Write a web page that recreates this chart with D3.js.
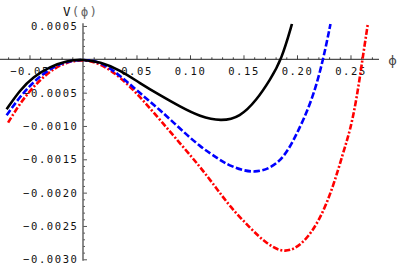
<!DOCTYPE html>
<html>
<head>
<meta charset="utf-8">
<script src="https://cdn.jsdelivr.net/npm/d3@7"></script>
<style>
    body { margin: 0; background: #fff; }
    .tick text { font-family: "DejaVu Sans Mono", monospace; font-size: 10.5px; letter-spacing: 1.6px; fill: #111; }
</style>
</head>
<body>
<div id="chart"></div>
<script>
// ticks
let xTicks = [-0.05, 0.05, 0.10, 0.15, 0.20, 0.25];
let xTickLabels = ["\u22120.05", "0.05", "0.10", "0.15", "0.20", "0.25"];
let yTicks = [0.0005, -0.0005, -0.0010, -0.0015, -0.0020, -0.0025, -0.0030];
let yTickLabels = ["0.0005", "\u22120.0005", "\u22120.0010", "\u22120.0015", "\u22120.0020", "\u22120.0025", "\u22120.0030"];

// V(phi), [phi, V]
let solidCurve = [
    [-0.0714, -0.00075], [-0.0589, -0.00046], [-0.0464, -0.00026], [-0.0308, -0.00011],
    [-0.0152, -0.00002], [0, 0], [0.0159, -0.00004], [0.0346, -0.00016], [0.0533, -0.00036],
    [0.072, -0.00054], [0.0907, -0.00071], [0.1093, -0.00086], [0.1290, -0.00093],
    [0.1467, -0.00087], [0.1623, -0.00061], [0.1748, -0.00031], [0.1857, 0], [0.1953, 0.00053]
];
let dashedCurve = [
    [-0.0714, -0.00084], [-0.0589, -0.00056], [-0.0464, -0.00034], [-0.0308, -0.000135],
    [-0.0152, -0.00003], [0, 0], [0.0159, -0.00003], [0.0346, -0.00024], [0.0533, -0.00051],
    [0.072, -0.00076], [0.0907, -0.00104], [0.1093, -0.00131], [0.128, -0.00151],
    [0.1374, -0.00160], [0.1607, -0.00173], [0.1841, -0.00157], [0.198, -0.00119],
    [0.2145, -0.00061], [0.2246, 0], [0.2313, 0.00053]
];
let dotDashCurve = [
    [-0.0700, -0.00095], [-0.0589, -0.00066], [-0.0464, -0.00041], [-0.0308, -0.00017],
    [-0.0152, -0.00004], [0, 0], [0.0159, -0.00006], [0.0346, -0.00026], [0.0533, -0.00056],
    [0.072, -0.00091], [0.0907, -0.00126], [0.1093, -0.00161], [0.125, -0.00194],
    [0.1374, -0.00221], [0.1561, -0.00253], [0.1717, -0.00277], [0.1888, -0.00292],
    [0.2059, -0.00277], [0.2215, -0.00241], [0.2339, -0.00191], [0.2433, -0.00139],
    [0.2495, -0.00108], [0.2556, -0.00061], [0.2612, 0], [0.2662, 0.00053]
];

let width = 399, height = 269;

let svg = d3.select("#chart").append("svg")
    .attr("width", width)
    .attr("height", height);

// scales (axes cross at origin)
let x = d3.scaleLinear().domain([-0.07757, 0.27664]).range([0, 379]);
let y = d3.scaleLinear().domain([-0.003021, 0.00054]).range([260.7, 23.3]);

// minor ticks
let xMinor = d3.range(-7, 28).map(d => d / 100).filter(d => Math.abs(d * 20 - Math.round(d * 20)) > 1e-6);
let yMinor = d3.range(-30, 6).map(d => d / 10000).filter(d => Math.abs(d * 2000 - Math.round(d * 2000)) > 1e-6);

let xAxisG = svg.append("g").attr("transform", `translate(0, ${y(0)})`);
xAxisG.append("g")
    .call(d3.axisBottom(x).tickValues(xMinor).tickSize(-2).tickFormat(""))
    .call(g => g.select(".domain").remove())
    .selectAll("line").attr("stroke", "#444");
xAxisG.append("g")
    .call(d3.axisBottom(x).tickValues(xTicks).tickSize(-4).tickPadding(8.5)
        .tickFormat((d, i) => xTickLabels[i]))
    .call(g => g.select(".domain").remove())
    .selectAll("line").attr("stroke", "#444");
xAxisG.append("line")
    .attr("x1", 0).attr("x2", 379)
    .attr("stroke", "#222").attr("stroke-width", 1);

let yAxisG = svg.append("g").attr("transform", `translate(${x(0)}, 0)`);
yAxisG.append("g")
    .call(d3.axisLeft(y).tickValues(yMinor).tickSize(-2).tickFormat(""))
    .call(g => g.select(".domain").remove())
    .selectAll("line").attr("stroke", "#555");
yAxisG.append("g")
    .call(d3.axisLeft(y).tickValues(yTicks).tickSize(-4).tickPadding(4.5)
        .tickFormat((d, i) => yTickLabels[i]))
    .call(g => g.select(".domain").remove())
    .selectAll("line").attr("stroke", "#555");
yAxisG.append("line")
    .attr("y1", 23.3).attr("y2", 260.7)
    .attr("stroke", "#666").attr("stroke-width", 1.5);

// axis labels
let vLabel = svg.append("text")
    .attr("x", 63).attr("y", 16)
    .attr("font-family", "DejaVu Sans Mono, monospace")
    .attr("font-size", "12.5px")
    .attr("letter-spacing", "1.3px");
vLabel.append("tspan").attr("fill", "#111").text("V");
vLabel.append("tspan").attr("fill", "#666").text("(\u03d5)");

svg.append("text")
    .attr("x", 392.5).attr("y", 64.5)
    .attr("text-anchor", "middle")
    .attr("font-family", "DejaVu Sans, sans-serif")
    .attr("font-size", "13px")
    .attr("fill", "#444")
    .text("\u03d5");

// curves
svg.append("clipPath").attr("id", "plotClip")
    .append("rect").attr("x", 0).attr("y", 23.5).attr("width", 399).attr("height", 245);

let line = d3.line()
    .x(d => x(d[0]))
    .y(d => y(d[1]))
    .curve(d3.curveBasis);

let curves = [
    {data: dotDashCurve, color: "#ff0000", dash: "6,2,2,2"},
    {data: dashedCurve, color: "#0000ff", dash: "6.5,2.5"},
    {data: solidCurve, color: "#000000", dash: null}
];

svg.append("g").attr("clip-path", "url(#plotClip)")
    .selectAll("path")
    .data(curves)
    .enter()
    .append("path")
    .attr("fill", "none")
    .attr("stroke", d => d.color)
    .attr("stroke-width", 2.6)
    .attr("stroke-dasharray", d => d.dash)
    .attr("d", d => line(d.data));
</script>
</body>
</html>
